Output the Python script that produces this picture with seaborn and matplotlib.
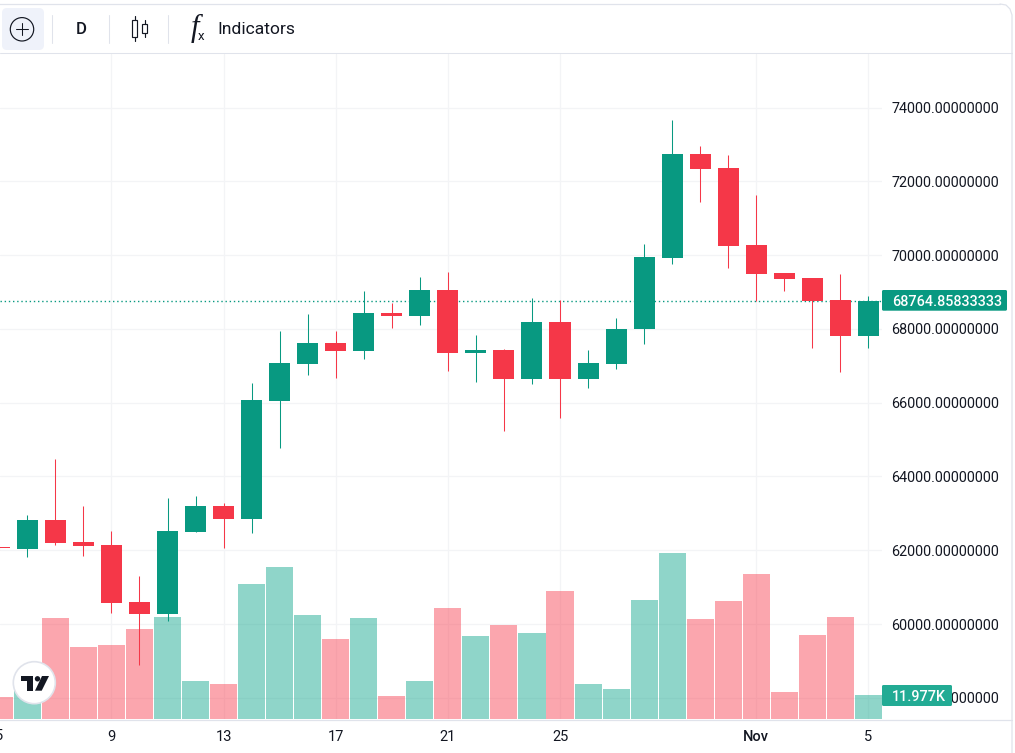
import matplotlib
matplotlib.use("Agg")
import matplotlib.pyplot as plt
import numpy as np
import pandas as pd
import seaborn as sns
from matplotlib.patches import Circle, FancyBboxPatch, Polygon, Rectangle
from matplotlib.ticker import FormatStrFormatter

# Day offsets relative to 9 Oct; first candle is 5 Oct, last is 5 Nov
days = list(range(-4, 28))
opens = [62076, 62035, 62821, 62225, 62144, 60599, 60274, 62496, 63201, 62848,
         66046, 67049, 67618, 67401, 68431, 68350, 69054, 67347, 67428, 66642,
         68187, 66642, 67049, 67997, 69921, 72740, 72360, 70274, 69515, 69379,
         68783, 67808]
closes = [62062, 62821, 62198, 62117, 60572, 60274, 62523, 63201, 62848, 66073,
          67076, 67618, 67401, 68431, 68350, 69054, 67347, 67428, 66642, 68187,
          66642, 67076, 67997, 69949, 72740, 72333, 70247, 69488, 69352, 68756,
          67808, 68765]
highs = [62100, 62957, 64474, 63201, 62523, 61304, 63417, 63472, 63282, 66534,
         67943, 68404, 67943, 69027, 68702, 69407, 69542, 67835, 67455, 68837,
         68783, 67428, 68295, 70301, 73661, 72957, 72713, 71629, 69515, 69379,
         69488, 68892]
lows = [62000, 61820, 62144, 61846, 60301, 58892, 60084, 62496, 62062, 62469,
        64772, 66751, 66669, 67184, 68024, 68106, 66859, 66561, 65233, 66507,
        65585, 66398, 66913, 67591, 69759, 71439, 69650, 68756, 69027, 67482,
        66832, 67482]
volumes_k = [11.0, 14.5, 50.4, 35.9, 36.9, 44.9, 50.9, 19.0, 17.5, 67.4, 75.8,
             51.9, 39.9, 50.4, 11.5, 19.0, 55.4, 41.4, 46.9, 42.9, 63.9, 17.5,
             15.0, 59.4, 82.8, 49.9, 58.9, 72.4, 13.5, 41.9, 50.9, 11.977]
price_ticks = [58000, 60000, 62000, 64000, 66000, 68000, 70000, 72000, 74000]
date_ticks = [0, 4, 8, 12, 16, 23, 27]
date_labels = ["9", "13", "17", "21", "25", "Nov", "5"]
first_date_label = "5"
last_price = 68764.85833333
last_price_label = "68764.85833333"
last_volume_label = "11.977K"

UP = "#089981"
DOWN = "#F53748"
VOL_UP = "#08A289"
VOL_DOWN = "#F83B4D"
INK = "#131722"
GRID = "#F3F4F6"
LINE = "#E0E3EB"
FONT = ["Roboto", "DejaVu Sans"]

W, H = 1015, 753
sns.set_theme(style="white")
plt.rcParams["font.family"] = FONT
fig = plt.figure(figsize=(W / 100, H / 100), dpi=100, facecolor="white")

# pane position in pixels
PX0, PX1, PY0, PY1 = 0, 882, 54, 719
rect = [PX0 / W, 1 - PY1 / H, (PX1 - PX0) / W, (PY1 - PY0) / H]
XLIM = (-3.975, 27.485)
PRICE_LIM = (57428, 75450)
VOL_LIM = (0, 332)

df = pd.DataFrame({"day": days, "open": opens, "close": closes, "high": highs,
                   "low": lows, "volume": volumes_k})
df["dir"] = np.where(df["close"] >= df["open"], "up", "down")

# background axes: grid + tick labels
ax = fig.add_axes(rect)

# volume
ax_v = ax.twinx()
ax_v.patch.set_visible(False)
sns.barplot(data=df, x="day", y="volume", hue="dir", dodge=False,
            native_scale=True, palette={"up": VOL_UP, "down": VOL_DOWN}, alpha=0.45,
            width=0.965, legend=False, ax=ax_v, linewidth=0, saturation=1)
ax_v.set_xlim(*XLIM)
ax_v.set_ylim(*VOL_LIM)
ax_v.axis("off")

# candles
ax_c = ax.twinx()
ax_c.patch.set_visible(False)
ax_c.set_xlim(*XLIM)
ax_c.set_ylim(*PRICE_LIM)
ax_c.axis("off")
cols = df["dir"].map({"up": UP, "down": DOWN})
ax_c.vlines(df["day"], df["low"], df["high"], colors=cols, linewidth=0.75, zorder=2)
ax_c.bar(df["day"], (df["close"] - df["open"]).abs(),
         bottom=df[["open", "close"]].min(axis=1), width=0.75, color=cols,
         linewidth=0, zorder=3)
ax_c.axhline(last_price, color=UP, linewidth=1.0, linestyle=(0, (1, 2)), zorder=1)

ax.set_xlim(*XLIM)
ax.set_ylim(*PRICE_LIM)
ax.set_yticks(price_ticks)
ax.yaxis.set_major_formatter(FormatStrFormatter("%.8f"))
ax.yaxis.tick_right()
ax.set_xticks(date_ticks)
ax.set_xticklabels(date_labels)
ax.tick_params(axis="y", length=0, pad=6.9, labelsize=10.4, labelcolor=INK,
               labelleft=False, labelright=True)
ax.tick_params(axis="x", length=0, pad=8, labelsize=10.5, labelcolor=INK)
ax.get_xticklabels()[5].set_fontweight("medium")
ax.grid(True, color=GRID, linewidth=0.9)
ax.set_axisbelow(True)
for s in ax.spines.values():
    s.set_visible(False)

# chrome in pixel coordinates
ov = fig.add_axes([0, 0, 1, 1], zorder=10)
ov.set_xlim(0, W)
ov.set_ylim(H, 0)
ov.axis("off")

# frame
ov.plot([-2, 1000], [4, 4], color=LINE, lw=0.9)
ov.plot([1000, 1006, 1010, 1012, 1012], [4, 5, 9, 15, H + 2], color=LINE, lw=0.9)
ov.plot([0, 1012], [53, 53], color=LINE, lw=0.75)
ov.plot([0, 1012], [719.5, 719.5], color=LINE, lw=0.9)

# first date label sits on the left edge, as in the source screenshot
ov.text(-0.5, 736, first_date_label, ha="center", va="center", fontsize=10.5, color=INK)

# toolbar
ov.add_patch(FancyBboxPatch((6, 12), 34, 34, boxstyle="round,pad=4,rounding_size=5",
                            fc="#EFF2FA", ec="none"))
ov.add_patch(Circle((22, 29.3), 11.7, fc="none", ec=INK, lw=0.85))
ov.plot([16, 28], [29.3, 29.3], color=INK, lw=0.75)
ov.plot([22, 22], [23.3, 35.3], color=INK, lw=0.75)
for x in (52.5, 109.5, 168.5):
    ov.plot([x, x], [15, 43], color=LINE, lw=0.75)
ov.text(81, 29.5, "D", ha="center", va="center", fontsize=12, color=INK, fontweight="medium")
ov.add_patch(Rectangle((132.5, 20), 5, 17, fc="white", ec=INK, lw=0.85))
ov.plot([135, 135], [16, 20], color=INK, lw=0.85)
ov.plot([135, 135], [37, 41], color=INK, lw=0.85)
ov.add_patch(Rectangle((142.5, 24), 5, 9, fc="white", ec=INK, lw=0.85))
ov.plot([145, 145], [20, 24], color=INK, lw=0.85)
ov.plot([145, 145], [33, 37], color=INK, lw=0.85)
ov.text(195, 28, "f", ha="center", va="center", fontsize=22, color=INK,
        family=["Liberation Serif"], style="italic")
ov.text(201, 36, "x", ha="center", va="center", fontsize=9.5, color=INK)
ov.text(217.5, 29.5, "Indicators", ha="left", va="center", fontsize=12.6, color=INK)

# last price badge
ov.add_patch(FancyBboxPatch((882, 290), 125, 20.7, boxstyle="round,pad=0,rounding_size=1.5",
                            fc=UP, ec="none"))
ov.text(892, 300.5, last_price_label, ha="left", va="center_baseline", fontsize=10.4,
        color="white", fontweight="medium")
# volume badge
ov.add_patch(FancyBboxPatch((882, 685), 70, 21, boxstyle="round,pad=0,rounding_size=1.5",
                            fc="#22AB94", ec="none"))
ov.text(892, 695.5, last_volume_label, ha="left", va="center_baseline", fontsize=10.4,
        color="white", fontweight="medium")

# logo
ov.add_patch(Circle((34.3, 682.7), 21, fc="white", ec=LINE, lw=1.2))
ov.add_patch(Polygon([(21, 676), (33.3, 676), (33.3, 690.7), (27.3, 690.7), (27.3, 681.3), (21, 681.3)],
                     fc=INK, ec="none"))
ov.add_patch(Circle((37.5, 678.8), 2.7, fc=INK, ec="none"))
ov.add_patch(Polygon([(42, 676), (49, 676), (41.7, 690.7), (35, 690.7)], fc=INK, ec="none"))

fig.savefig("out.png", dpi=100)
